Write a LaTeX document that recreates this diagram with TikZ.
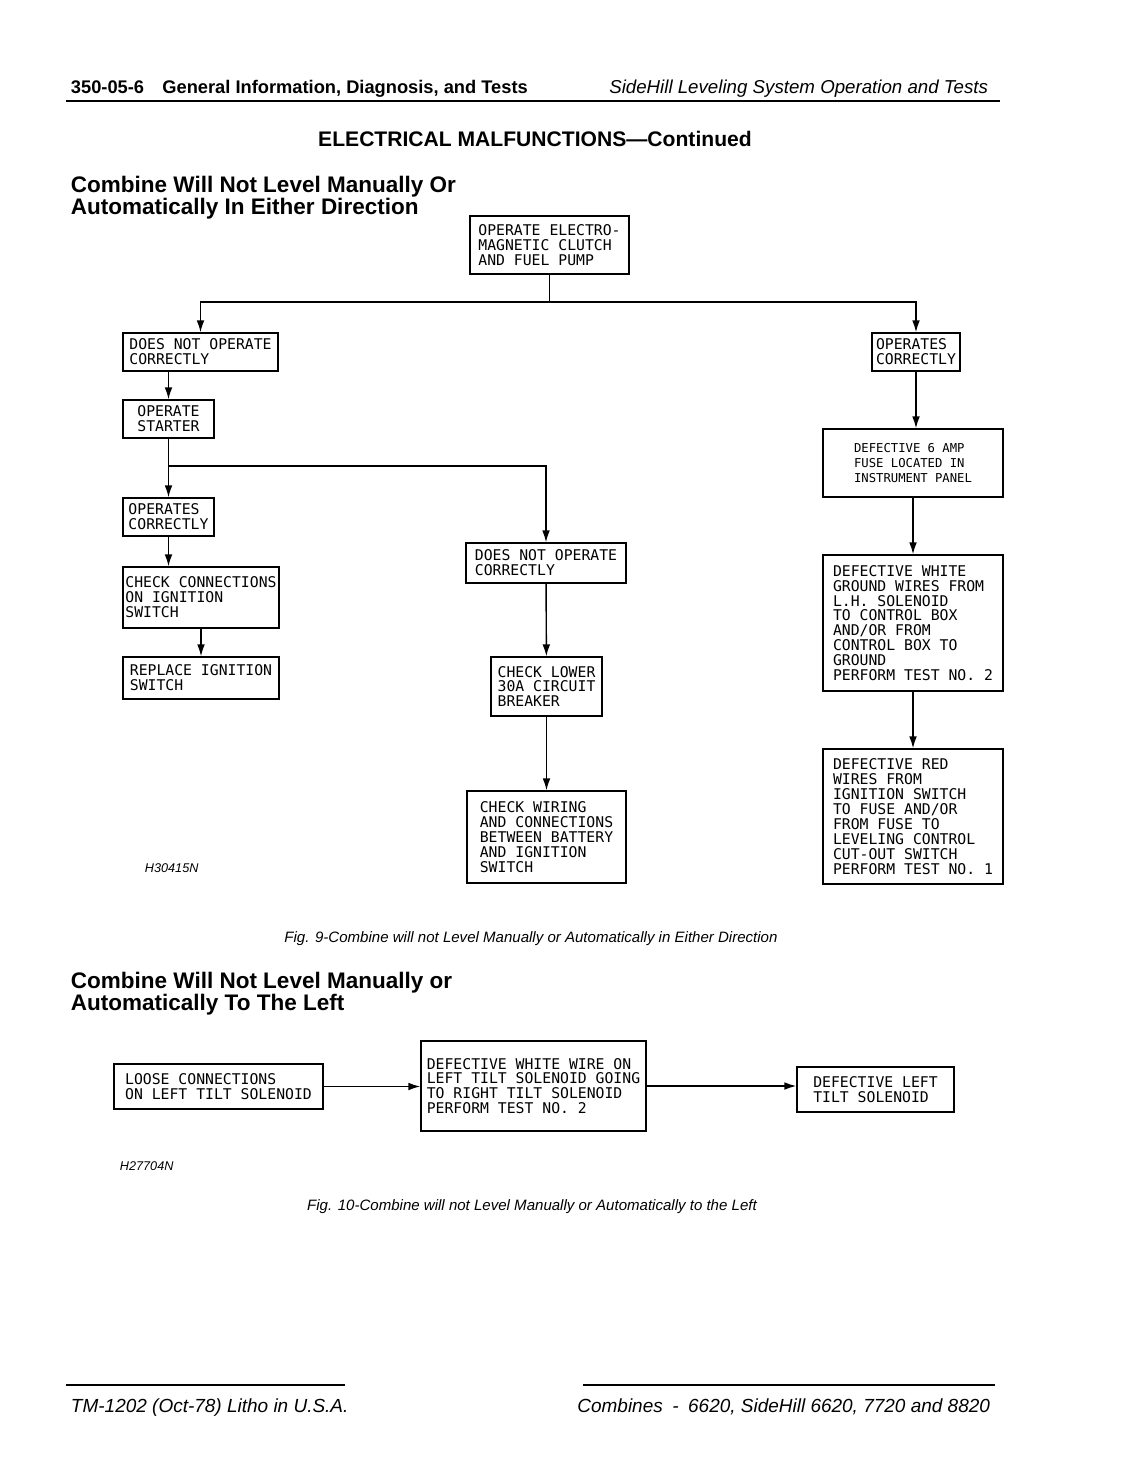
\documentclass[tikz,border=0pt]{standalone}
\usepackage{fontspec}
\setmainfont{Liberation Sans}
\newfontfamily\monobox{DejaVu Sans Mono}
\usetikzlibrary{arrows.meta}
\tikzset{>={Latex[length=8.5pt,width=5.5pt]}}

\begin{document}
\begin{tikzpicture}[x=0.025cm,y=-0.025cm,
    chart/.style={draw, line width=1pt, inner sep=0pt, align=left, font=\monobox\fontsize{10.5}{10.6}\selectfont},
    link/.style={line width=1pt},
    caption/.style={anchor=base, font=\itshape\fontsize{10.7}{12}\selectfont},
    heading/.style={anchor=north west, align=left, font=\bfseries\fontsize{16}{15.6}\selectfont},
    tag/.style={anchor=base west, font=\itshape\fontsize{9}{10}\selectfont}]
        \fill[white] (0,0) rectangle (1132,1466);
        % page header
        \node[anchor=base west, font=\bfseries\fontsize{13}{15}\selectfont] (pagehead) at (66,93) {350-05-6\quad General Information, Diagnosis, and Tests};
        \node[anchor=base east, font=\itshape\fontsize{13.3}{15}\selectfont] (sectionhead) at (993,93) {SideHill Leveling System Operation and Tests};
        \draw[line width=1.5pt] (66,101) -- (1000,101);
        \node[anchor=base, font=\bfseries\fontsize{15}{17}\selectfont] (title) at (535,146) {ELECTRICAL MALFUNCTIONS---Continued};

        % fig. 9
        \node[heading] (headA) at (66,171) {Combine Will Not Level Manually Or\\Automatically In Either Direction};
        \node[chart, minimum width=3.975cm, minimum height=1.45cm] (clutch) at (549.5,245) {OPERATE ELECTRO-\\MAGNETIC CLUTCH\\AND FUEL PUMP};
        \node[chart, minimum width=3.875cm, minimum height=0.95cm] (notop) at (200.5,352) {DOES NOT OPERATE\\CORRECTLY};
        \node[chart, minimum width=2.275cm, minimum height=0.95cm] (starter) at (168.5,419) {OPERATE\\STARTER};
        \node[chart, minimum width=2.275cm, minimum height=0.95cm] (opok) at (168.5,517) {OPERATES\\CORRECTLY};
        \node[chart, minimum width=3.9cm, minimum height=1.525cm] (chkconn) at (201,597.5) {CHECK CONNECTIONS\\ON IGNITION\\SWITCH};
        \node[chart, minimum width=3.9cm, minimum height=1.05cm] (replace) at (201,678) {REPLACE IGNITION\\SWITCH};
        \node[chart, minimum width=4cm, minimum height=1cm] (notopb) at (546,563) {DOES NOT OPERATE\\CORRECTLY};
        \node[chart, minimum width=2.775cm, minimum height=1.475cm] (breaker) at (546.5,686.5) {CHECK LOWER\\30A CIRCUIT\\BREAKER};
        \node[chart, minimum width=3.975cm, minimum height=2.3cm] (wiring) at (546.5,837) {CHECK WIRING\\AND CONNECTIONS\\BETWEEN BATTERY\\AND IGNITION\\SWITCH};
        \node[chart, minimum width=2.2cm, minimum height=0.95cm] (opokr) at (916,352) {OPERATES\\CORRECTLY};
        \node[chart, minimum width=4.5cm, minimum height=1.7cm, font=\monobox\fontsize{8.7}{10.6}\selectfont] (fuse) at (913,463) {DEFECTIVE 6 AMP\\FUSE LOCATED IN\\INSTRUMENT PANEL};
        \node[chart, minimum width=4.5cm, minimum height=3.4cm] (ground) at (913,623) {DEFECTIVE WHITE\\GROUND WIRES FROM\\L.H. SOLENOID\\TO CONTROL BOX\\AND/OR FROM\\CONTROL BOX TO\\GROUND\\PERFORM TEST NO. 2};
        \node[chart, minimum width=4.5cm, minimum height=3.375cm] (redwires) at (913,816.5) {DEFECTIVE RED\\WIRES FROM\\IGNITION SWITCH\\TO FUSE AND/OR\\FROM FUSE TO\\LEVELING CONTROL\\CUT-OUT SWITCH\\PERFORM TEST NO. 1};
        \node[tag] (codeA) at (140,872) {H30415N};

        \coordinate (split) at (549.5,302);
        \coordinate (fork) at (168.5,466);
        \draw[link] (clutch) -- (split);
        \draw[link,->] (split) -| (notop);
        \draw[link,->] (split) -| (opokr);
        \draw[link,->] (notop.south -| starter) -- (starter);
        \draw[link,->] (starter) -- (opok);
        \draw[link,->] (fork) -| (notopb);
        \draw[link,->] (opok) -- (opok |- chkconn.north);
        \draw[link,->] (chkconn) -- (replace);
        \draw[link,->] (notopb) -- (breaker);
        \draw[link,->] (breaker) -- (wiring);
        \draw[link,->] (opokr) -- (opokr |- fuse.north);
        \draw[link,->] (fuse) -- (ground);
        \draw[link,->] (ground) -- (redwires);
        \node[caption] (capA) at (531,942) {Fig. 9-Combine will not Level Manually or Automatically in Either Direction};

        % fig. 10
        \node[heading] (headB) at (66,967) {Combine Will Not Level Manually or\\Automatically To The Left};
        \node[chart, minimum width=5.225cm, minimum height=1.125cm] (loose) at (218.5,1086.5) {LOOSE CONNECTIONS\\ON LEFT TILT SOLENOID};
        \node[chart, minimum width=5.625cm, minimum height=2.25cm] (whitewire) at (533.5,1086) {DEFECTIVE WHITE WIRE ON\\LEFT TILT SOLENOID GOING\\TO RIGHT TILT SOLENOID\\PERFORM TEST NO. 2};
        \node[chart, minimum width=3.925cm, minimum height=1.125cm] (leftsol) at (875.5,1089.5) {DEFECTIVE LEFT\\TILT SOLENOID};
        \draw[link,->] (loose) -- (loose -| whitewire.west);
        \draw[link,->] (whitewire) -- (whitewire -| leftsol.west);
        \node[tag] (codeB) at (115,1170) {H27704N};
        \node[caption] (capB) at (532,1210) {Fig. 10-Combine will not Level Manually or Automatically to the Left};

        % page footer
        \draw[line width=1pt] (66,1385) -- (345,1385);
        \draw[line width=1pt] (583,1385) -- (995,1385);
        \node[anchor=base west, font=\itshape\fontsize{13.5}{15}\selectfont] (footA) at (66,1412) {TM-1202 (Oct-78) Litho in U.S.A.};
        \node[anchor=base east, font=\itshape\fontsize{13.5}{15}\selectfont] (footB) at (995,1412) {Combines\enspace-\enspace 6620, SideHill 6620, 7720 and 8820};
\end{tikzpicture}
\end{document}
